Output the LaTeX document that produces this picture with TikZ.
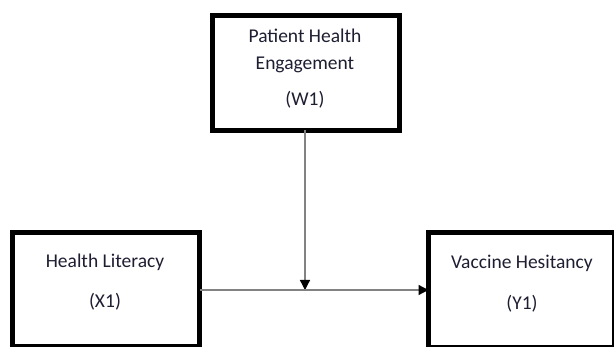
\documentclass[tikz,border=0pt]{standalone}
\usepackage{fontspec}
\setmainfont{Carlito}
\usetikzlibrary{arrows.meta}
\definecolor{txt}{RGB}{30,30,50}
\definecolor{conn}{RGB}{130,130,130}
\tikzset{
  varbox/.style={draw=black, line width=5pt, fill=white, minimum width=#1, inner sep=0pt, outer sep=0pt},
  lbl/.style={anchor=base, inner sep=0pt, text=txt, font=\fontsize{19.5}{23}\selectfont},
  link/.style={draw=conn, line width=1.3pt, -{Triangle[length=10pt,width=10pt,fill=black,color=black]}}
}
\begin{document}
\begin{tikzpicture}[x=1pt,y=-1pt]
\useasboundingbox[fill=white] (0,0) rectangle (614,347);
\begin{scope}
\clip (0,0) rectangle (614,347);
\node[varbox=187pt, minimum height=115pt] (w) at (306,73) {};
\node[varbox=187pt, minimum height=114pt] (x) at (106,289.5) {};
\node[varbox=186pt, minimum height=115pt] (y) at (521.5,290) {};
\coordinate (m) at (305,290);
\draw[link] (w.south -| m) -- (m);
\draw[link] (x.east |- m) -- (y.west |- m);
\end{scope}
\node[lbl] (w1) at (305,43) {Patient Health};
\node[lbl] (w2) at (305,69.5) {Engagement};
\node[lbl] (w3) at (305,105.5) {(W1)};
\node[lbl] (x1) at (105,267.5) {Health Literacy};
\node[lbl] (x2) at (105,308) {(X1)};
\node[lbl] (y1) at (522,269) {Vaccine Hesitancy};
\node[lbl] (y2) at (522,310) {(Y1)};
\end{tikzpicture}
\end{document}
